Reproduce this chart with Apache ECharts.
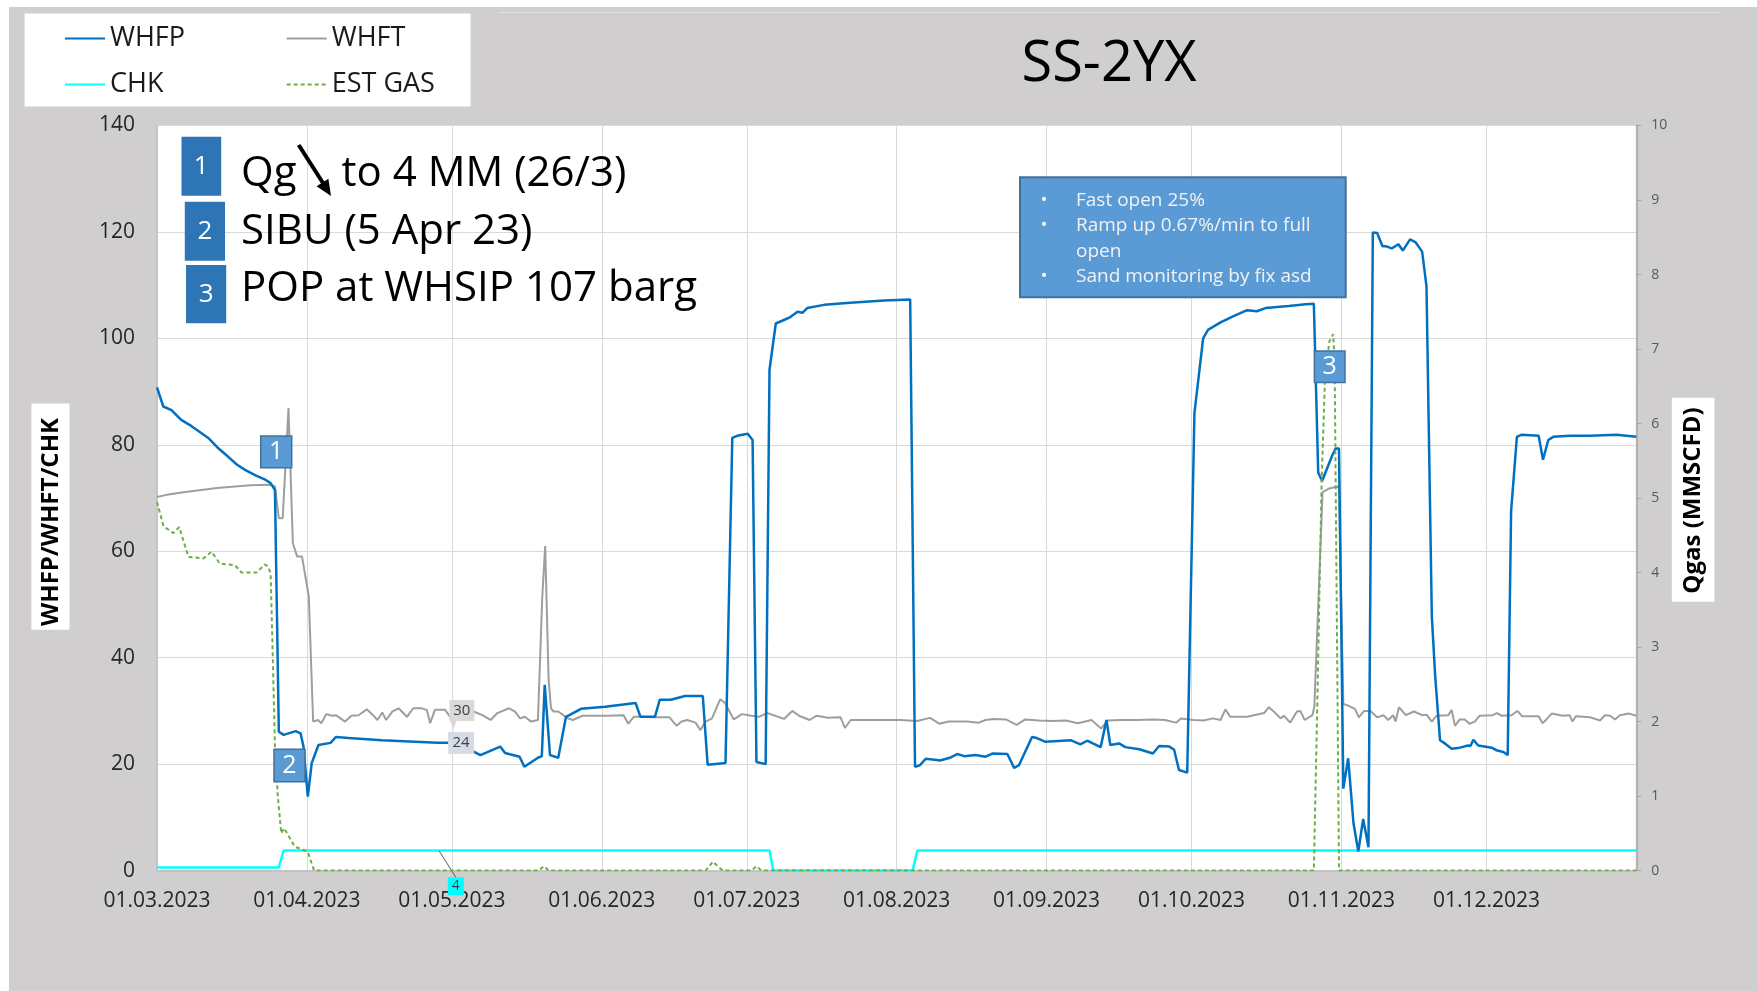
<!DOCTYPE html>
<html><head><meta charset="utf-8">
<script src="https://cdn.jsdelivr.net/npm/echarts@6/dist/echarts.min.js"></script>
<style>html,body{margin:0;padding:0;background:#fff}#c{width:1757px;height:991px}</style>
</head><body><div id="c"></div>
<script>
// x values are days since 01.03.2023
const startDate = '2023-03-01';
const endDate = '2024-01-01';
const monthTicks = ['2023-03-01','2023-04-01','2023-05-01','2023-06-01','2023-07-01','2023-08-01','2023-09-01','2023-10-01','2023-11-01','2023-12-01'];
const leftTicks = [0, 140, 20];   // min, max, interval
const rightTicks = [0, 10, 1];

const whfp = [[0,90.8],[1.3,87.2],[3,86.5],[5,84.7],[7,83.6],[9,82.3],[10.6,81.3],[12.5,79.5],[14.8,77.7],[16.5,76.3],[18.2,75.3],[20.5,74.2],[22.5,73.4],[23.5,72.8],[24.4,71.5],[25.2,26.1],[26.2,25.5],[28.7,26.2],[29.7,25.8],[30.3,23.3],[31.2,13.9],[32,20.2],[33.4,23.6],[35.9,24],[37,25.1],[39.6,24.9],[46.5,24.5],[53.4,24.2],[58,24],[64,24],[65,22.6],[66.9,21.7],[71,23.3],[72,22.1],[75,21.4],[76,19.5],[78.8,21.2],[79.6,21.5],[80.2,34.9],[81.3,21.7],[83,21.2],[84.6,28.9],[85.5,29.3],[87.7,30.4],[92.7,30.8],[99,31.5],[100,28.9],[103,28.9],[104,32.1],[106.3,32.1],[109.2,32.8],[112.9,32.8],[113.9,19.9],[117.6,20.2],[118,20.5],[119,81.3],[120,81.7],[122.2,82.1],[123.2,80.9],[124,20.4],[125.9,20],[126.7,94.1],[128,102.8],[129.8,103.5],[131,104],[132.5,105],[133.5,104.8],[134.5,105.7],[138,106.3],[143.4,106.7],[150.4,107.1],[155.8,107.3],[156.8,19.5],[157.8,19.8],[159,21],[160,20.9],[162,20.7],[164,21.2],[165.5,21.9],[167,21.5],[169.3,21.7],[171.4,21.4],[172.8,22],[175.9,21.9],[177.3,19.3],[178.3,19.8],[181,25.1],[182,24.9],[183.8,24.2],[189,24.5],[191,23.7],[192.4,24.4],[195.2,23.2],[196.4,28.3],[197.2,23.6],[199,23.9],[200.3,23.2],[203.2,22.8],[206,22],[207.3,23.4],[209.4,23.3],[210.4,22.7],[211.4,18.9],[213.1,18.4],[214.6,86],[216.4,100],[217.4,101.6],[220,103],[222.7,104.2],[225.5,105.3],[227.5,105.1],[229.3,105.7],[234.1,106.1],[237.6,106.4],[239.3,106.5],[240.2,74.8],[241,73.2],[243.1,78],[243.8,79.3],[244.5,79.3],[245.4,15.4],[246.4,21.1],[247.5,8.9],[248.5,3.6],[249.5,9.7],[250.6,4.4],[251.5,119.9],[252.4,119.8],[253.5,117.3],[254.3,117.3],[255.4,116.9],[256.8,117.7],[257.7,116.5],[259.2,118.6],[260.3,118.1],[261.7,116.3],[262.6,109.8],[263.7,47.9],[264.4,36.5],[265.4,24.5],[266.4,23.9],[267.8,22.9],[269.5,23.1],[271.2,23.5],[271.7,23.4],[272.3,24.6],[273.3,23.5],[276.1,23.1],[277.1,22.6],[278.5,22.3],[279.4,21.7],[280.1,67.5],[281.3,81.5],[282.3,81.9],[285.8,81.7],[286.7,77.2],[287.8,80.9],[288.8,81.5],[292.3,81.7],[296.4,81.7],[301.9,81.9],[306,81.5]];

const whft = [[0,70.2],[2,70.6],[5.5,71.1],[12.4,71.9],[19.3,72.4],[23.5,72.5],[24.4,72.2],[25.2,66.2],[26,66.2],[27.2,86.9],[28.1,61.5],[29,59],[30,59],[31.4,51.5],[32.3,28],[33.3,28.3],[34,27.7],[35,29.4],[36.2,29.1],[37,29.2],[38.9,28],[40.2,29.1],[41.7,29.2],[43.4,30.3],[44.7,29.2],[45.6,28.3],[46.6,29.7],[47.4,28.3],[48.7,29.9],[50,30.5],[51.7,28.9],[53,30.5],[54.7,30.5],[55.8,30.2],[56.5,27.7],[57.5,30.2],[59.6,30.2],[60.6,28.9],[62.5,30],[65.5,29.9],[67.3,29.2],[69,28.3],[70.4,29.6],[72.8,30.5],[74,29.9],[75.1,28.6],[76.1,28.9],[77.4,28],[78.8,28.3],[79.7,51.5],[80.3,61],[81,36],[81.5,30.5],[82,29.9],[83,29.9],[85,28.6],[86,28.3],[88,29.1],[93,29.1],[96.5,29.2],[97.5,27.6],[98.6,28.9],[100,28.9],[102.5,28.8],[106,28.8],[107.5,27.2],[108.5,28],[109.7,28.3],[111.4,27.8],[112.4,26.4],[113.5,28],[114.8,28.6],[116.5,32.2],[117.5,31.5],[119.3,28.4],[121,29.4],[123,29.1],[124.5,28.9],[126.2,29.6],[129.7,28.5],[131.4,30],[132.8,29.1],[135,28.3],[136.4,29.1],[138.8,28.7],[141.4,28.8],[142.3,26.8],[143.5,28.3],[146.8,28.3],[153.7,28.3],[157.2,28.1],[159.9,28.7],[161.8,27.6],[163.8,28],[167.5,28],[170,27.8],[171.4,28.3],[173.1,28.5],[175.6,28.4],[177.8,27.4],[179.6,28.4],[182.4,28.2],[185.2,28.1],[188,28.2],[190.5,27.7],[193.3,28.3],[195.3,26.7],[196.7,28.2],[199.4,28.3],[202.6,28.3],[206.2,28.4],[208.5,28.3],[210.8,27.8],[211.8,28.6],[214.4,28.3],[216.5,28.2],[218.4,28.6],[220,28.3],[221,30.3],[222,28.9],[225.5,28.9],[229,29.6],[230,30.7],[231,29.9],[232.4,28.6],[233.1,29.1],[234.4,27.8],[235.8,29.9],[236.5,30],[237.4,28.3],[239,29.2],[239.4,30.8],[241.1,71.1],[242.5,71.8],[244.5,72.2],[245.4,31.3],[246.4,31],[247.8,30.4],[248.6,28.8],[249.7,30],[251,30],[252.4,28.8],[253.7,29.2],[254.7,28.3],[255.7,29.2],[256.2,28],[256.9,30.7],[258.3,29.2],[260,29.9],[261.7,29.2],[262.6,29.3],[263.7,28],[264.7,29.1],[267.1,29.2],[267.8,30.2],[268.5,27.2],[269.5,28.4],[270.5,28.4],[271.5,27.6],[272.6,28],[273.6,29.1],[276.3,29.2],[277.2,29.6],[278.1,29.1],[280.2,29.2],[281.4,30],[282.4,29],[285.8,29],[286.6,27.7],[287.4,28.4],[288.5,29.5],[290.8,29.1],[292.2,29.2],[292.8,28],[293.5,29],[296.4,28.8],[298.5,28.2],[299.5,29.2],[300.6,29.1],[301.6,28.4],[302.6,29.2],[304.5,29.5],[306,29.1]];

const chk = [[0,0.6],[25.2,0.6],[26.2,3.8],[58.3,3.8],[126.7,3.8],[127.5,0],[156.3,0],[157.3,3.8],[306,3.8]];
const chkLabelDay = 58.3;

const estGas = [[0,4.95],[0.3,4.93],[1.35,4.62],[3.4,4.53],[4.6,4.61],[6.5,4.21],[9.6,4.19],[11.3,4.28],[13,4.12],[16.1,4.1],[17.5,4.0],[20.6,4.0],[22.3,4.11],[23,4.08],[23.5,3.99],[23.9,3.0],[24.4,1.66],[25,0.99],[25.7,0.5],[26.3,0.57],[27.1,0.48],[28.5,0.32],[30.2,0.28],[31.2,0.25],[32.5,0],[79,0],[80,0.06],[81,0],[113.5,0],[115,0.12],[116.3,0.04],[117,0],[123,0],[124,0.06],[125,0],[239.3,0],[240,2.2],[240.9,5.2],[241.6,6.6],[242.5,7.1],[243.3,7.2],[243.6,6.8],[244,3.8],[244.5,0],[306,0]];

// data callouts: [day, value, text]
const whftCallout = [61.3, 26.4, '30'];
const whfpCallout = [62.9, 24, '24'];

const DAY = 86400000;
const T0 = Date.parse(startDate + 'T00:00:00Z');
const toTs = d => T0 + d * DAY;
const conv = arr => arr.map(([d, v]) => [toTs(d), v]);
const tickVals = monthTicks.map(s => Date.parse(s + 'T00:00:00Z'));
const pad = n => (n < 10 ? '0' : '') + n;
const fmtDate = v => { const d = new Date(v); return pad(d.getUTCDate()) + '.' + pad(d.getUTCMonth() + 1) + '.' + d.getUTCFullYear(); };

const FONT = '"Open Sans", "Noto Sans", sans-serif';
const chart = echarts.init(document.getElementById('c'), null, {renderer: 'canvas'});

const chkData = conv(chk).map((p, i) => chk[i][0] === chkLabelDay ? {
  value: p, symbol: 'circle', symbolSize: 1,
  label: {show: true, position: 'inside', formatter: p => String(Math.round(p.value[1])),
          backgroundColor: '#00FFFF', color: '#404040', fontSize: 14, fontFamily: FONT, padding: [2, 4]}
} : p);

const legendCommon = {padding: 0, itemWidth: 40, itemHeight: 14, itemGap: 5, selectedMode: false,
  itemStyle: {opacity: 0},
  textStyle: {fontSize: 27, fontFamily: FONT, color: '#1a1a1a'}};

function box(x, y, w, h, fill, stroke, lw, z) {
  return {type: 'rect', shape: {x, y, width: w, height: h}, style: {fill, stroke, lineWidth: lw || 0}, z: z || 100};
}
function txt(x, y, text, size, color, opts) {
  opts = opts || {};
  return {type: 'text', x, y, rotation: opts.rotation || 0, z: opts.z || 101,
    style: {text, fontSize: size, fontFamily: FONT, fontWeight: opts.weight || 'normal', fill: color,
      textAlign: opts.align || 'left', textVerticalAlign: 'middle'}};
}

const graphics = [
  box(0, 0, 9, 991, '#ffffff', null, 0, -1),
  box(0, 0, 1757, 7, '#ffffff', null, 0, -1),
  {type: 'line', shape: {x1: 498, y1: 12.5, x2: 1720, y2: 12.5}, style: {stroke: '#e6dfe6', lineWidth: 1}, z: 1},
  box(24.6, 13.4, 446, 93, '#ffffff', null, 0, 1),
  txt(1109, 65, 'SS-2YX', 56, '#000', {align: 'center'}),
  // annotation list
  box(181.5, 136.7, 39.7, 59, '#2E75B6'), txt(201.3, 166.2, '1', 26, '#fff', {align: 'center'}),
  box(184.8, 201.7, 40.2, 59, '#2E75B6'), txt(204.9, 231.2, '2', 26, '#fff', {align: 'center'}),
  box(186, 265, 40.2, 58.3, '#2E75B6'), txt(206.1, 294.2, '3', 26, '#fff', {align: 'center'}),
  txt(241, 174, 'Qg', 42, '#000'),
  {type: 'line', shape: {x1: 298.7, y1: 145, x2: 323, y2: 183}, style: {stroke: '#000', lineWidth: 4}, z: 101},
  {type: 'polygon', shape: {points: [[331, 196], [316.6, 186.2], [328.4, 178.8]]}, style: {fill: '#000'}, z: 101},
  txt(341.6, 174, 'to 4 MM (26/3)', 42, '#000'),
  txt(241, 232, 'SIBU (5 Apr 23)', 42, '#000'),
  txt(241, 289, 'POP at WHSIP 107 barg', 42, '#000'),
  // callout box
  box(1020, 177.3, 325.7, 120, '#5B9BD5', '#41719C', 2),
  txt(1044, 200.7, '•', 19, '#f2f2f2', {align: 'center'}),
  txt(1076, 200.7, 'Fast open 25%', 19, '#f2f2f2'),
  txt(1044, 226, '•', 19, '#f2f2f2', {align: 'center'}),
  txt(1076, 226, 'Ramp up 0.67%/min to full', 19, '#f2f2f2'),
  txt(1076, 251.7, 'open', 19, '#f2f2f2'),
  txt(1044, 276.7, '•', 19, '#f2f2f2', {align: 'center'}),
  txt(1076, 276.7, 'Sand monitoring by fix asd', 19, '#f2f2f2'),
  // markers
  box(260.7, 436, 31, 31.7, '#5B9BD5', '#41719C', 1.5), txt(276.2, 452, '1', 25, '#fff', {align: 'center'}),
  box(274, 749.3, 31, 32.4, '#5B9BD5', '#41719C', 1.5), txt(289.5, 765.5, '2', 25, '#fff', {align: 'center'}),
  box(1314.4, 351, 30.6, 31.5, '#5B9BD5', '#41719C', 1.5), txt(1329.7, 366.8, '3', 25, '#fff', {align: 'center'}),
  // axis names
  box(31.4, 403.4, 38.1, 226.3, '#ffffff', null, 0, 1),
  txt(51, 522, 'WHFP/WHFT/CHK', 24, '#000', {align: 'center', weight: 'bold', rotation: Math.PI / 2}),
  box(1671.8, 397.8, 42.6, 203.9, '#ffffff', null, 0, 1),
  txt(1693.5, 500.5, 'Qgas (MMSCFD)', 24, '#000', {align: 'center', weight: 'bold', rotation: Math.PI / 2})
];

chart.setOption({
  backgroundColor: '#D0CECE',
  animation: false,
  grid: {left: 157, top: 125.5, width: 1479.3, height: 745.1, show: true, backgroundColor: '#ffffff', borderColor: '#D9D9D9', borderWidth: 1},
  legend: [
    Object.assign({data: ['WHFP'], left: 64, top: 25}, legendCommon),
    Object.assign({data: ['WHFT'], left: 285.7, top: 25}, legendCommon),
    Object.assign({data: ['CHK'], left: 64, top: 71}, legendCommon),
    Object.assign({data: ['EST GAS'], left: 285.7, top: 71}, legendCommon)
  ],
  xAxis: {
    type: 'value', min: T0, max: Date.parse(endDate + 'T00:00:00Z'),
    axisLine: {show: true, lineStyle: {color: '#BFBFBF', width: 1.5}},
    axisTick: {show: false, customValues: tickVals},
    axisLabel: {customValues: tickVals, formatter: fmtDate, fontSize: 21, fontFamily: FONT, color: '#262626', margin: 20},
    splitLine: {show: true, lineStyle: {color: '#D9D9D9', width: 1}}
  },
  yAxis: [
    {type: 'value', min: leftTicks[0], max: leftTicks[1], interval: leftTicks[2],
     axisLine: {show: true, lineStyle: {color: '#BFBFBF', width: 1.5}}, axisTick: {show: false},
     axisLabel: {fontSize: 21, fontFamily: FONT, color: '#262626', margin: 22},
     splitLine: {show: true, lineStyle: {color: '#D9D9D9', width: 1}}},
    {type: 'value', position: 'right', min: rightTicks[0], max: rightTicks[1], interval: rightTicks[2],
     axisLine: {show: true, lineStyle: {color: '#A6A6A6', width: 1.5}},
     axisTick: {show: true, inside: false, length: 5, lineStyle: {color: '#A6A6A6'}},
     axisLabel: {fontSize: 14, fontFamily: FONT, color: '#595959', margin: 15},
     splitLine: {show: false}}
  ],
  graphic: graphics,
  series: [
    {name: 'CHK', type: 'line', yAxisIndex: 0, data: chkData, symbol: 'none', showSymbol: true,
     lineStyle: {color: '#00FFFF', width: 2.5}, itemStyle: {color: '#00FFFF'},
     labelLayout: {dx: 17, dy: 36}, labelLine: {show: true, lineStyle: {color: '#595959', width: 1}}, z: 2},
    {name: 'WHFT', type: 'line', yAxisIndex: 0, data: conv(whft), symbol: 'none',
     lineStyle: {color: '#9E9E9E', width: 2}, itemStyle: {color: '#9E9E9E'}, z: 3,
     markPoint: {symbol: 'path://M0,0 L25,0 L25,21 L7,21 L4,30 L1,21 L0,21 Z', symbolSize: [25, 30], symbolOffset: [8.5, -15],
       itemStyle: {color: '#D9D9D9'},
       label: {show: true, position: 'inside', offset: [0, -4.5], color: '#404040', fontSize: 15, fontFamily: FONT, formatter: whftCallout[2]},
       data: [{coord: [toTs(whftCallout[0]), whftCallout[1]]}]}},
    {name: 'WHFP', type: 'line', yAxisIndex: 0, data: conv(whfp), symbol: 'none',
     lineStyle: {color: '#0070C0', width: 2.5}, itemStyle: {color: '#0070C0'}, z: 4,
     markPoint: {symbol: 'rect', symbolSize: [26, 22], itemStyle: {color: '#D6DCE5'},
       label: {show: true, position: 'inside', color: '#404040', fontSize: 15, fontFamily: FONT, formatter: whfpCallout[2]},
       data: [{coord: [toTs(whfpCallout[0]), whfpCallout[1]]}]}},
    {name: 'EST GAS', type: 'line', yAxisIndex: 1, data: conv(estGas), symbol: 'none',
     lineStyle: {color: '#70AD47', width: 2, type: [4, 3]}, itemStyle: {color: '#70AD47'}, z: 5}
  ]
});
</script></body></html>
